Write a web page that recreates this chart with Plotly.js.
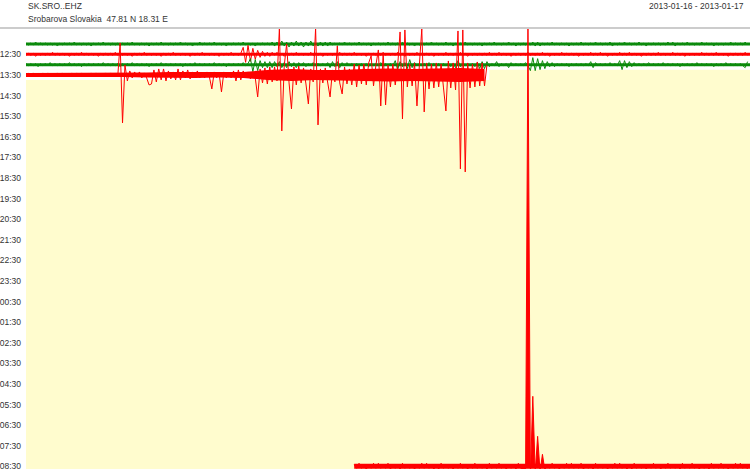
<!DOCTYPE html>
<html><head><meta charset="utf-8">
<script src="https://cdn.plot.ly/plotly-3.0.1.min.js"></script>
<style>html,body{margin:0;padding:0;background:#fff}#chart{width:750px;height:469px}</style>
</head><body><div id="chart"></div>
<script>
// ---- header texts ----
const station = 'SK.SRO..EHZ';
const siteInfo = 'Srobarova Slovakia\u00a0 47.81 N 18.31 E';
const dateSpan = '2013-01-16 - 2013-01-17';

// ---- helicorder rows (30 min each) ----
const rowTimes = ['12:00','12:30','13:00','13:30','14:00','14:30','15:00','15:30','16:00','16:30',
  '17:00','17:30','18:00','18:30','19:00','19:30','20:00','20:30','21:00','21:30',
  '22:00','22:30','23:00','23:30','00:00','00:30','01:00','01:30','02:00','02:30',
  '03:00','03:30','04:00','04:30','05:00','05:30','06:00','06:30','07:00','07:30',
  '08:00','08:30'];
const sampleMinutes = 0.1;   // decimated sample interval (min)
const envMinutes = 1;        // noise-envelope interval (min)

// amplitudes (counts, decimated), one value per sample
const row00 = [1,-1,1,-1,2,-1,1,-1,1,-1, 1,-1,1,-2,1,-1,1,-1,1,-1, 2,-1,1,-1,1,-1,1,-2,1,-1, 1,-1,2,-1,1,-1,1,-1,1,-2,
  1,-1,1,-1,2,-1,1,-1,1,-1, 1,-2,1,-1,1,-1,2,-1,1,-1, 1,-1,1,-1,2,-1,1,-1,1,-2, 1,-1,2,-1,1,-1,1,-1,2,-1,
  1,-1,1,-2,1,-1,1,-1,1,-1, 2,-1,1,-1,1,-2,1,-1,1,-1, 1,-1,2,-2,2,-2,3,-2,2,-3, 2,-2,3,-2,2,-3,2,-2,3,-2,
  1,-2,2,-2,2,-2,2,-1,1,-1, 1,-1,2,-1,1,-1,1,-1,2,-1, 1,-1,1,-2,1,-1,1,-1,1,-1, 2,-1,1,-1,1,-1,2,-1,1,-1,
  1,-2,1,-1,1,-1,1,-1,2,-1, 1,-1,1,-1,2,-1,1,-2,1,-1, 1,-1,2,-1,1,-1,1,-1,1,-2, 1,-1,1,-1,2,-1,1,-1,1,-1,
  2,-1,1,-2,1,-1,1,-1,1,-1, 2,-2,2,-2,1,-1,1,-1,2,-1, 1,-1,1,-1,1,-2,1,-1,1,-1, 2,-1,1,-1,1,-1,2,-1,1,-1,
  1,-1,2,-2,1,-1,1,-1,2,-1, 1,-1,1,-1,2,-1,1,-2,1,-1, 1,-1,1,-1,1,-1,2,-1,2,-2, 1,-1,1,-1,2,-1,1,-1,1,-1,
  2,-1,1,-1,1,-2,1,-1,1,-1, 1,-1,2,-1,1,-1,1,-1,2,-1];
const row01 = [-1,1,-1,1,-2,1,-1,1,-1,1, -1,2,-1,1,-1,1,-1,1,-2,1, -1,1,-1,2,-1,1,-1,1,-1,1, -2,1,-1,1,-1,1,-1,2,-1,1,
  -1,1,-1,1,-2,1,-1,1,-1,2, -1,1,-1,1,-1,1,-2,1,-1,1, -1,2,-1,1,-1,1,-1,1,-2,1, -1,1,-1,2,-1,1,-1,1,-1,1,
  -2,1,-1,1,-1,2,-1,1,-1,1, 7,-8,9,-7,6,-5,4,-3,3,-2, 2,-2,2,-1,2,-1,1,-2,1,-1, 1,-1,2,-1,1,-1,1,-1,2,-1,
  1,-1,1,-2,1,-1,1,-1,1,-1, 2,-1,1,-1,1,-1,2,-1,1,-1, 1,-2,1,-1,1,-1,1,-1,2,-1, 1,-1,1,-1,2,-1,1,-2,1,-1,
  1,-1,2,-1,1,-1,1,-1,1,-2, 1,-1,1,-1,2,-1,1,-1,1,-1, 2,-1,1,-2,1,-1,1,-1,1,-1, 1,-1,2,-1,1,-1,2,-1,1,-1,
  1,-2,1,-1,1,-1,1,-1,2,-1, 1,-1,1,-1,2,-1,1,-2,1,-1, 1,-1,2,-1,1,-1,1,-1,1,-2, 1,-1,1,-1,2,-1,1,-1,2,-1,
  1,-2,1,-1,1,-1,2,-1,1,-1, 2,-1,1,-1,1,-2,1,-1,1,-1, 1,-1,2,-1,1,-1,1,-1,2,-1, 1,-1,1,-2,1,-1,1,-1,1,-1,
  2,-1,1,-1,1,-1,2,-1,1,-1, 1,-2,1,-1,1,-1,1,-1,2,-1];
const row02 = [1,-1,1,-1,1,-2,1,-1,1,-1, 2,-1,1,-1,1,-1,1,-1,2,-1, 1,-1,1,-2,1,-1,1,-1,1,-1, 1,-1,2,-1,1,-1,1,-1,1,-2,
  1,-1,1,-1,2,-1,1,-1,1,-1, 1,-2,1,-1,1,-1,2,-1,1,-1, 1,-1,1,-1,1,-2,1,-1,1,-1, 2,-1,1,-1,1,-1,1,-1,2,-1,
  1,-1,1,-2,1,-1,1,-1,1,-1, 2,-1,1,6,-7,5,-6,4,-3,3, -3,3,-3,3,-2,3,-3,2,-3,3, -2,2,-3,2,-1,2,-2,1,-1,2,
  -1,1,-1,1,-1,2,-3,3,-2,3, -3,2,-1,2,-1,1,-1,1,-1,1, -1,1,-2,1,-1,1,-1,2,-1,1, -1,1,-1,4,-5,3,-2,2,-4,5,
  -3,2,-1,1,-1,1,-1,2,-1,1, -1,1,-1,1,-1,1,-2,1,-3,4, -2,1,-1,1,-1,1,-2,2,-4,3, -4,3,-2,1,-1,3,-2,1,-1,1,
  -3,2,-1,1,-1,1,-1,2,-1,-6, 7,-6,6,-5,4,-4,3,-2,2,-2, 1,-1,1,-1,1,-2,1,-1,1,-1, 1,-1,1,-1,3,-3,2,-1,1,-1,
  1,-1,2,-1,1,-1,4,-5,4,-3, 3,-2,2,-1,1,-1,1,-1,2,-1, 1,-1,1,-1,2,-1,1,-1,1,-1, 1,-2,1,-1,1,-1,1,-1,2,-1,
  1,-1,1,-1,1,-2,1,-1,1,-1, 2,-1,1,-1,1,-1,1,-1,-3,3];
const row03 = [-2,2,-1,2,-2,1,-2,2,-1,2, -2,1,-2,2,-1,2,-2,1,-2,2, -1,2,-2,2,-2,1,-2,2,-1,2, -2,1,-2,2,-1,2,-2,1,-2,32,
  -48,10,-6,4,-3,3,-2,3,-3,2, -3,-10,-9,5,-7,6,-5,6,-6,4, -4,3,-5,6,-5,4,-3,5,-4,3, -3,4,-3,2,-3,3,-2,-14,3,-3,
  2,-17,3,-3,2,-3,4,-6,5,-5, 4,-3,3,-4,3,-3,-22,6,-8,7, -9,8,-7,8,-6,47,-56,9,31,-8, -34,8,-10,9,-8,7,-9,-29,6,-7,
  47,-50,6,-8,7,-9,-22,5,-7,29, -8,-19,8,-9,6,-10,11,-12,10,-9, 11,-10,12,19,-11,10,25,-31,22,-30,
  10,-12,11,-10,9,43,-44,45,-12,11, -11,12,-31,10,46,-37,12,-14,11,-13, 12,-12,11,-13,-36,14,-13,12,-15,44,
  -94,45,-97,12,-13,11,-12,13,-11,12, -11,10];
const row41StartSample = 136;   // 08:30 row resumes at 13.6 min
const row41 = [2,-2,3,-2,2,-3,2,-2,3,-2, 3,-2,2,-2,3,-3,2,-2,2,-3, 3,-2,2,-2,2,-3,2,-2,3,-2, 3,-2,2,-3,2,-3,3,-2,2,-2,
  2,-3,2,-2,3,-2,2,-3,2,-2, 3,-2,2,-2,2,-3,3,-2,2,-2, 3,-2,2,-3,2,-2,2,-3,3,-2,
  -3,-8,440,-10,70,-6,30,-5,12,-4,
  2,-2,3,-2,2,-3,2,-2,3,-2, 3,-2,2,-2,3,-3,2,-2,2,-3, 3,-2,2,-2,2,-3,2,-2,3,-2, 3,-2,2,-3,2,-3,3,-2,2,-2,
  2,-3,2,-2,3,-2,2,-3,2,-2, 3,-2,2,-2,2,-3,3,-2,2,-2, 3,-2,2,-3,2,-2,2,-3,3,-2, 2,-2,3,-2,2,-3,2,-2,3,-2,
  3,-2,2,-3];

// background noise envelope (half-width, counts), one value per minute from the row start
const env00 = [1.5,1.5,1.5,1.5,1.5,1.5,1.5,1.5,1.5,1.5, 1.5,2,2,1.5,1.5,1.5,1.5,1.5,1.5,1.5, 1.5,1.5,1.5,1.5,1.5,1.5,1.5,1.5,1.5,1.5,1.5];
const env01 = [1.5,1.5,1.5,1.5,1.5,1.5,1.5,1.5,1.5,1.5, 1.5,1.5,1.5,1.5,1.5,1.5,1.5,1.5,1.5,1.5, 1.5,1.5,1.5,1.5,1.5,1.5,1.5,1.5,1.5,1.5,1.5];
const env02 = [1.5,1.5,1.5,1.5,1.5,1.5,1.5,1.5,1.5,1.5, 2,2,1.5,1.5,1.5,1.5,1.5,1.5,1.5,1.5, 1.5,2,1.5,1.5,1.5,1.5,1.5,1.5,1.5,1.5,1.5];
const env03 = [2,2,2,2,2,2.5,3,3,2.5,3, 5,6,5,5,6,6.5,6,6.5,7,6];
const env41Start = 13.6;
const env41 = [2.5,2.5,2.5,2.5,2.5,2.5,2.5,2.5,2.5,2.5, 2.5,2.5,2.5,2.5,2.5,2.5,2.5,2.5];

const dataRows = [
  {row: 0, start: 0, values: row00, envStart: 0, env: env00},
  {row: 1, start: 0, values: row01, envStart: 0, env: env01},
  {row: 2, start: 0, values: row02, envStart: 0, env: env02},
  {row: 3, start: 0, values: row03, envStart: 0, env: env03},
  {row: 41, start: row41StartSample, values: row41, envStart: env41Start, env: env41}
];
const topBlockRows = [0, 1, 2, 3];  // continuous recording before the gap

// ---- styling ----
const gain = 1 / 10.3;          // rows per count
const GREEN = '#0b8a0b', RED = '#ff0000';
const FONT = 'Liberation Sans, Arial, Helvetica, sans-serif';
const rowSpan = 300 * sampleMinutes;
const Y_RANGE = [-41.26, 1.46];   // main axis: row r sits at y = -r

const layout = {
  width: 750, height: 469,
  margin: {l: 26, r: 0, t: 29, b: 0, pad: 0},
  paper_bgcolor: '#ffffff', plot_bgcolor: '#fffcce',
  showlegend: false,
  xaxis: {range: [0, rowSpan], visible: false, fixedrange: true},
  yaxis: {range: Y_RANGE, showgrid: false, zeroline: false, showline: false, ticks: '',
    ticklabelstandoff: 4, ticklabeloverflow: 'allow', fixedrange: true,
    tickfont: {family: FONT, size: 8.5, color: '#333333'}}
};

// one overlaying axis per recorded row, whose zero is that row's baseline
const traces = [];
dataRows.forEach((d, j) => {
  const axisId = 'y' + (j + 2);
  layout['yaxis' + (j + 2)] = {overlaying: 'y', visible: false, fixedrange: true,
    range: [(Y_RANGE[0] + d.row) / gain, (Y_RANGE[1] + d.row) / gain]};
  const color = rowTimes[d.row].endsWith(':00') ? GREEN : RED;
  const ex = d.env.map((v, k) => d.envStart + k * envMinutes);
  traces.push({type: 'scatter', mode: 'lines', yaxis: axisId, hoverinfo: 'skip',
    x: ex.concat(ex.slice().reverse()),
    y: d.env.concat(d.env.slice().reverse().map(v => -v)),
    fill: 'toself', fillcolor: color, line: {width: 0}});
  const wave = {type: 'scatter', mode: 'lines', yaxis: axisId, hoverinfo: 'skip',
    x: d.values.map((v, i) => (d.start + i) * sampleMinutes),
    y: d.values,
    line: {color, width: 1}};
  if (d.row === 41) { wave.fill = 'tozeroy'; wave.fillcolor = color; }
  traces.push(wave);
});

const shapes = [];
dataRows.filter(d => topBlockRows.includes(d.row)).forEach(d => {
  shapes.push({type: 'rect', xref: 'x', yref: 'y', layer: 'below',
    x0: d.start * sampleMinutes, x1: Math.min(rowSpan, (d.start + d.values.length) * sampleMinutes),
    y0: -d.row - 0.5, y1: d.row === 0 ? 3 : -d.row + 0.5,
    fillcolor: '#ffffff', line: {width: 0}});
});
shapes.push({type: 'line', xref: 'paper', yref: 'paper', x0: -26/724, x1: 1, y0: 1 + 1/440, y1: 1 + 1/440,
  line: {color: '#999999', width: 1}});
layout.shapes = shapes;

const tickRows = rowTimes.map((t, i) => i).filter(i => rowTimes[i].endsWith(':30'));
layout.yaxis.tickvals = tickRows.map(i => -i);
layout.yaxis.ticktext = tickRows.map(i => rowTimes[i]);

layout.annotations = [
  {xref: 'paper', yref: 'paper', x: 0, y: 1, yshift: 23, xanchor: 'left', yanchor: 'middle',
    text: station, showarrow: false, font: {family: FONT, size: 8.5, color: '#333333'}},
  {xref: 'paper', yref: 'paper', x: 0, y: 1, yshift: 10, xanchor: 'left', yanchor: 'middle',
    text: siteInfo, showarrow: false, font: {family: FONT, size: 8.5, color: '#333333'}},
  {xref: 'paper', yref: 'paper', x: 1, y: 1, yshift: 23, xshift: -4, xanchor: 'right', yanchor: 'middle',
    text: dateSpan, showarrow: false, font: {family: FONT, size: 8.5, color: '#333333'}}
];

Plotly.newPlot('chart', traces, layout, {staticPlot: true, displayModeBar: false});
</script>
</body></html>
